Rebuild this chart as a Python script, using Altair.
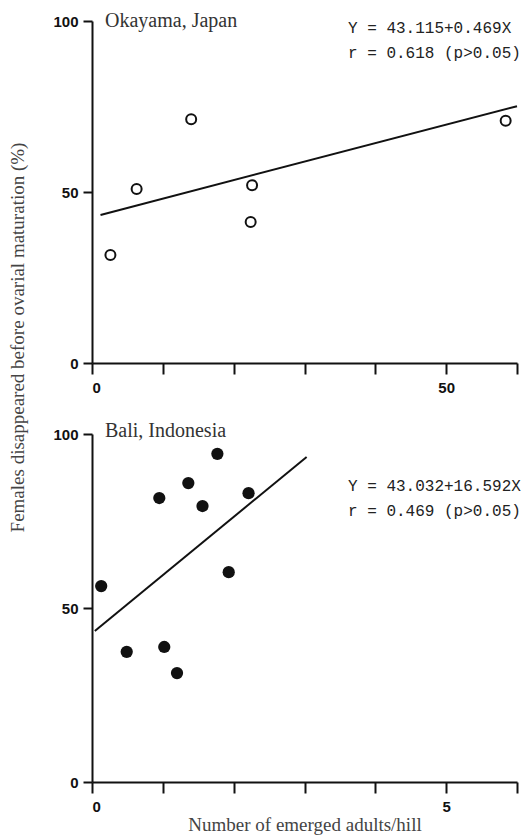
import altair as alt
import pandas as pd

# --- data ---
ok_x = [2.6, 6.3, 14.0, 22.6, 22.4, 58.4]
ok_y = [31.6, 50.9, 71.3, 52.0, 41.2, 70.8]
ok_line_x = [1.2, 60.0]
ok_line_y = [43.3, 75.1]

bali_x = [0.13, 0.49, 0.95, 1.02, 1.20, 1.36, 1.56, 1.77, 1.93, 2.21]
bali_y = [56.3, 37.4, 81.6, 38.8, 31.3, 85.9, 79.3, 94.3, 60.3, 83.0]
bali_line_x = [0.04, 3.03]
bali_line_y = [43.4, 93.4]

ok_xticks = [0, 10, 20, 30, 40, 50, 60]
ok_xlabels = ["0", "", "", "", "", "50", ""]
bali_xticks = [0, 1, 2, 3, 4, 5, 6]
bali_xlabels = ["0", "", "", "", "", "5", ""]
y_ticks = [0, 50, 100]

ok_name = "Okayama, Japan"
ok_eq = ["Y = 43.115+0.469X", "r = 0.618 (p>0.05)"]
bali_name = "Bali, Indonesia"
bali_eq = ["Y = 43.032+16.592X", "r = 0.469 (p>0.05)"]

y_title = "Females disappeared before ovarial maturation  (%)"
x_title = "Number of emerged adults/hill"


def label_expr(ticks, labels):
    parts = [f"datum.value == {t} ? '{l}'" for t, l in zip(ticks, labels) if l]
    return " : ".join(parts) + " : ''"


W = 425
H_TOP = 342
H_BOT = 348

ok_pts = pd.DataFrame({"x": ok_x, "y": ok_y})
ok_ln = pd.DataFrame({"x": ok_line_x, "y": ok_line_y})
bali_pts = pd.DataFrame({"x": bali_x, "y": bali_y})
bali_ln = pd.DataFrame({"x": bali_line_x, "y": bali_line_y})

label_style = dict(labelFont="Liberation Sans", labelFontWeight="bold",
                   labelFontSize=15, labelColor="#111")


def panel(pts, ln, xdom, xticks, xlabels, height, filled, name, eq,
          ytitle, xtitle, name_y, eq_y):
    xaxis_kwargs = dict(values=xticks, labelExpr=label_expr(xticks, xlabels),
                        tickSize=11, labelPadding=6, grid=False, **label_style)
    if xtitle:
        xaxis_kwargs.update(title=xtitle, titleFont="Liberation Serif",
                            titleFontSize=19, titleFontWeight="normal",
                            titleColor="#444", titlePadding=1)
    else:
        xaxis_kwargs.update(title=None)
    yaxis_kwargs = dict(values=y_ticks, tickSize=9, labelPadding=5, grid=False,
                        **label_style)
    if ytitle:
        yaxis_kwargs.update(title=ytitle, titleFont="Liberation Serif",
                            titleFontSize=19, titleFontWeight="normal",
                            titleColor="#444", titleY=316, titlePadding=25)
    else:
        yaxis_kwargs.update(title=None)
    x = alt.X("x:Q", scale=alt.Scale(domain=xdom, nice=False),
              axis=alt.Axis(**xaxis_kwargs))
    y = alt.Y("y:Q", scale=alt.Scale(domain=[0, 100], nice=False),
              axis=alt.Axis(**yaxis_kwargs))

    if filled:
        points = alt.Chart(pts).mark_point(shape="circle", filled=True,
                                           color="#111", size=150, opacity=1)
    else:
        points = alt.Chart(pts).mark_point(shape="circle", filled=False,
                                           color="#111", size=100,
                                           strokeWidth=2, opacity=1)
    points = points.encode(x=x, y=y)
    line = alt.Chart(ln).mark_line(color="#111", strokeWidth=2).encode(x=x, y=y)

    name_t = alt.Chart(pd.DataFrame({"t": [name]})).mark_text(
        font="Liberation Serif", fontSize=20, color="#333", align="left",
        baseline="middle").encode(text="t:N", x=alt.value(13), y=alt.value(name_y))
    eq_t = alt.Chart(pd.DataFrame({"t": ["\n".join(eq)]})).mark_text(
        font="Liberation Mono", fontSize=16, color="#222", align="left",
        baseline="middle", lineBreak="\n", lineHeight=25).encode(
        text="t:N", x=alt.value(256), y=alt.value(eq_y))

    return alt.layer(line, points, name_t, eq_t).properties(width=W, height=height)


top = panel(ok_pts, ok_ln, [0, 60], ok_xticks, ok_xlabels, H_TOP, False,
            ok_name, ok_eq, y_title, None, 0, 7)
bot = panel(bali_pts, bali_ln, [0, 6], bali_xticks, bali_xlabels, H_BOT, True,
            bali_name, bali_eq, None, x_title, -3, 52)

chart = alt.vconcat(top, bot, spacing=71, bounds="flush").configure_view(
    stroke=None).configure_axis(
    domainColor="#111", domainWidth=2, tickColor="#111", tickWidth=2
).properties(padding={"left": 0, "top": 3, "right": 0, "bottom": 2},
             background="white")

chart.save("out.html", embed_options={"renderer": "svg", "actions": False})
